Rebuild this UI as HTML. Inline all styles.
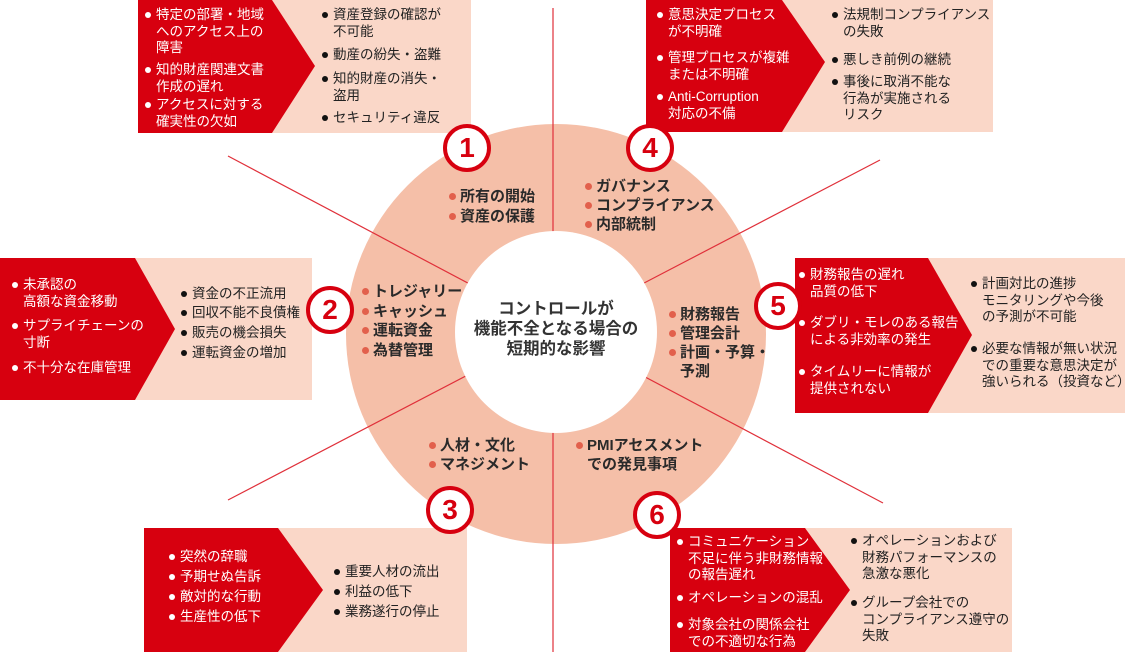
<!DOCTYPE html>
<html><head><meta charset="utf-8"><style>
body{margin:0;width:1140px;height:660px;background:#fff;position:relative;overflow:hidden;font-family:"Liberation Sans","Noto Sans CJK JP",sans-serif;}
.it{position:absolute;font-size:13.5px;line-height:16.5px;white-space:nowrap;}
.w{color:#fff}
.k{color:#222}
.it::before{content:"";position:absolute;left:-11px;top:5px;width:6px;height:6px;border-radius:50%;}
.w::before{background:#fff}
.k::before{background:#111}
.r{position:absolute;font-size:15px;font-weight:bold;color:#2a2a2a;white-space:nowrap;}
.r div{position:relative}
.r div::before{content:"";position:absolute;left:-11px;top:6px;width:7px;height:7px;border-radius:50%;background:#e2604c}
.n{position:absolute;width:40px;height:40px;border:4px solid #d7000f;border-radius:50%;background:#fff;color:#d7000f;font:bold 28px/40px "Liberation Sans",sans-serif;text-align:center;}
</style></head><body>
<svg width="1140" height="660" style="position:absolute;left:0;top:0">
<circle cx="556" cy="334" r="210" fill="#f5bfa8"/>
<line x1="553" y1="8" x2="553" y2="652" stroke="#e0303a" stroke-width="1.2"/>
<line x1="228" y1="156" x2="883" y2="503" stroke="#e0303a" stroke-width="1.2"/>
<line x1="880" y1="160" x2="228" y2="500" stroke="#e0303a" stroke-width="1.2"/>
<circle cx="556" cy="332" r="101" fill="#fff"/>
<rect x="138" y="0" width="333" height="133" fill="#fad7c8"/>
<polygon points="138,0 272,0 315,66 272,133 138,133" fill="#d7000f"/>
<rect x="646" y="0" width="347" height="132" fill="#fad7c8"/>
<polygon points="646,0 782,0 825,62 782,132 646,132" fill="#d7000f"/>
<rect x="0" y="258" width="312" height="142" fill="#fad7c8"/>
<polygon points="0,258 135,258 175,329 135,400 0,400" fill="#d7000f"/>
<rect x="795" y="258" width="330" height="155" fill="#fad7c8"/>
<polygon points="795,258 928,258 972,335 928,413 795,413" fill="#d7000f"/>
<rect x="144" y="528" width="323" height="124" fill="#fad7c8"/>
<polygon points="144,528 278,528 323,590 278,652 144,652" fill="#d7000f"/>
<rect x="670" y="528" width="342" height="124" fill="#fad7c8"/>
<polygon points="670,528 805,528 850,590 805,652 670,652" fill="#d7000f"/>
</svg>

<div class="it w" style="left:156px;top:7px">特定の部署・地域<br>へのアクセス上の<br>障害</div>
<div class="it w" style="left:156px;top:62px">知的財産関連文書<br>作成の遅れ</div>
<div class="it w" style="left:156px;top:97px">アクセスに対する<br>確実性の欠如</div>
<div class="it k" style="left:333px;top:7px">資産登録の確認が<br>不可能</div>
<div class="it k" style="left:333px;top:47px">動産の紛失・盗難</div>
<div class="it k" style="left:333px;top:71px">知的財産の消失・<br>盗用</div>
<div class="it k" style="left:333px;top:110px">セキュリティ違反</div>

<div class="it w" style="left:668px;top:7px">意思決定プロセス<br>が不明確</div>
<div class="it w" style="left:668px;top:50px">管理プロセスが複雑<br>または不明確</div>
<div class="it w" style="left:668px;top:89px">Anti-Corruption<br>対応の不備</div>
<div class="it k" style="left:843px;top:7px">法規制コンプライアンス<br>の失敗</div>
<div class="it k" style="left:843px;top:52px">悪しき前例の継続</div>
<div class="it k" style="left:843px;top:74px">事後に取消不能な<br>行為が実施される<br>リスク</div>

<div class="it w" style="left:23px;top:277px">未承認の<br>高額な資金移動</div>
<div class="it w" style="left:23px;top:318px">サプライチェーンの<br>寸断</div>
<div class="it w" style="left:23px;top:360px">不十分な在庫管理</div>
<div class="it k" style="left:192px;top:286px">資金の不正流用</div>
<div class="it k" style="left:192px;top:305px">回収不能不良債権</div>
<div class="it k" style="left:192px;top:325px">販売の機会損失</div>
<div class="it k" style="left:192px;top:345px">運転資金の増加</div>

<div class="it w" style="left:810px;top:267px">財務報告の遅れ<br>品質の低下</div>
<div class="it w" style="left:810px;top:315px">ダブリ・モレのある報告<br>による非効率の発生</div>
<div class="it w" style="left:810px;top:364px">タイムリーに情報が<br>提供されない</div>
<div class="it k" style="left:982px;top:276px">計画対比の進捗<br>モニタリングや今後<br>の予測が不可能</div>
<div class="it k" style="left:982px;top:341px">必要な情報が無い状況<br>での重要な意思決定が<br>強いられる（投資など）</div>

<div class="it w" style="left:180px;top:549px">突然の辞職</div>
<div class="it w" style="left:180px;top:569px">予期せぬ告訴</div>
<div class="it w" style="left:180px;top:589px">敵対的な行動</div>
<div class="it w" style="left:180px;top:609px">生産性の低下</div>
<div class="it k" style="left:345px;top:564px">重要人材の流出</div>
<div class="it k" style="left:345px;top:584px">利益の低下</div>
<div class="it k" style="left:345px;top:604px">業務遂行の停止</div>

<div class="it w" style="left:688px;top:534px">コミュニケーション<br>不足に伴う非財務情報<br>の報告遅れ</div>
<div class="it w" style="left:688px;top:590px">オペレーションの混乱</div>
<div class="it w" style="left:688px;top:617px">対象会社の関係会社<br>での不適切な行為</div>
<div class="it k" style="left:862px;top:533px">オペレーションおよび<br>財務パフォーマンスの<br>急激な悪化</div>
<div class="it k" style="left:862px;top:595px">グループ会社での<br>コンプライアンス遵守の<br>失敗</div>

<div class="r" style="left:460px;top:187px;line-height:20px"><div>所有の開始</div><div>資産の保護</div></div>
<div class="r" style="left:596px;top:177px;line-height:19px"><div>ガバナンス</div><div>コンプライアンス</div><div>内部統制</div></div>
<div class="r" style="left:373px;top:282px;line-height:19.5px"><div>トレジャリー</div><div>キャッシュ</div><div>運転資金</div><div>為替管理</div></div>
<div class="r" style="left:680px;top:305px;line-height:19px"><div>財務報告</div><div>管理会計</div><div>計画・予算・<br>予測</div></div>
<div class="r" style="left:440px;top:436px;line-height:19px"><div>人材・文化</div><div>マネジメント</div></div>
<div class="r" style="left:587px;top:436px;line-height:19px"><div>PMIアセスメント<br>での発見事項</div></div>

<div style="position:absolute;left:446px;top:299px;width:220px;text-align:center;font-size:16.5px;font-weight:bold;line-height:20px;color:#333">コントロールが<br>機能不全となる場合の<br>短期的な影響</div>

<div class="n" style="left:443px;top:124px">1</div>
<div class="n" style="left:626px;top:124px">4</div>
<div class="n" style="left:306px;top:286px">2</div>
<div class="n" style="left:754px;top:282px">5</div>
<div class="n" style="left:426px;top:486px">3</div>
<div class="n" style="left:633px;top:491px">6</div>
</body></html>
